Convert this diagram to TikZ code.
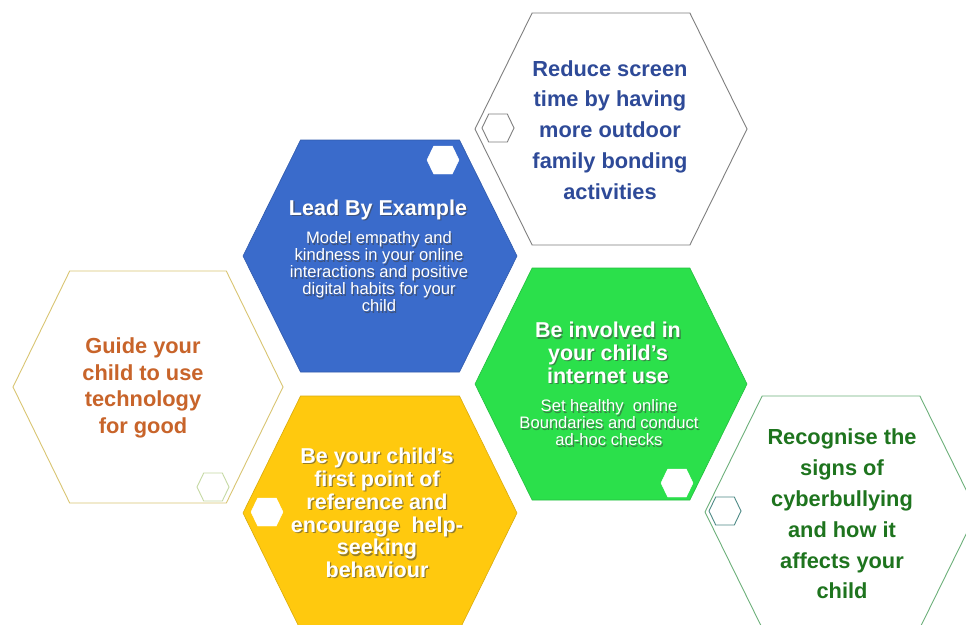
\documentclass[tikz,border=0pt]{standalone}
\usepackage{fontspec}
\setmainfont{Liberation Sans}
\definecolor{hblue}{HTML}{3A6BCB}
\definecolor{hgreen}{HTML}{2BE04B}
\definecolor{hyellow}{HTML}{FFC90E}
\definecolor{tanline}{HTML}{D9C572}
\definecolor{lightgreenline}{HTML}{C5D9A3}
\definecolor{grayline}{HTML}{7F7F7F}
\definecolor{greenline}{HTML}{6DB07A}
\definecolor{tealline}{HTML}{4E8A86}
\definecolor{torange}{HTML}{C8642A}
\definecolor{tblue}{HTML}{2E4A98}
\definecolor{tgreen}{HTML}{1E741E}
% #1 style, #2 cx, #3 cy, #4 half width, #5 half height
\newcommand\hexshape[5]{%
  \path[#1] ({#2-#4},#3) -- ({#2-0.58*#4},{#3-#5}) -- ({#2+0.58*#4},{#3-#5})
    -- ({#2+#4},#3) -- ({#2+0.58*#4},{#3+#5}) -- ({#2-0.58*#4},{#3+#5}) -- cycle;}
\tikzset{
  bigfill/.style={draw=#1!85!black, line width=0.6pt, fill=#1},
  outlinehex/.style={draw=#1, line width=0.9pt, fill=white},
  smallwhite/.style={fill=white, draw=white},
  ttl/.style={align=center, inner sep=0pt, font=\bfseries\fontsize{21.5}{22.8}\selectfont},
  ttlwide/.style={align=center, inner sep=0pt, font=\bfseries\fontsize{21.8}{30.8}\selectfont},
  ttlleft/.style={align=center, inner sep=0pt, font=\bfseries\fontsize{21.8}{26.8}\selectfont},
  bodytxt/.style={align=center, inner sep=0pt, font=\fontsize{16.6}{17}\selectfont},
  shadowtxt/.style={text=black!75, opacity=0.55, xshift=1.3pt, yshift=-1.3pt},
}
\newcommand\leadT{Lead By Example}
\newcommand\leadB{Model empathy and\\kindness in your online\\interactions and positive\\digital habits for your\\child}
\newcommand\invT{Be involved in\\your child’s\\internet use}
\newcommand\invB{Set healthy\ \ online\\Boundaries and conduct\\ad-hoc checks}
\newcommand\firstT{Be your child\char"0027 s\\first point of\\reference and\\encourage\ \ help-\\seeking\\behaviour}
\begin{document}
\begin{tikzpicture}[x=1pt,y=-1pt]
\useasboundingbox (0,0) rectangle (966,624);
\clip (0,0) rectangle (966,624);
\fill[white] (0,0) rectangle (966,624);
% outline hexagons
\hexshape{outlinehex=tanline}{148}{387}{135}{116}
\hexshape{outlinehex=grayline}{611}{129}{136}{116}
\hexshape{outlinehex=greenline}{841}{512}{136}{116}
% filled hexagons
\hexshape{bigfill=hblue}{380}{256}{137}{116}
\hexshape{bigfill=hgreen}{611}{384}{136}{116}
\hexshape{bigfill=hyellow}{380}{513}{137}{117}
% small hexagons
\hexshape{smallwhite}{443}{160}{16}{14}
\hexshape{smallwhite}{677}{483}{16}{14}
\hexshape{smallwhite}{267}{512}{16}{14}
\hexshape{draw=lightgreenline, line width=0.9pt, fill=white}{213}{487}{16}{14}
\hexshape{draw=grayline, line width=0.9pt, fill=white}{498}{128}{16}{14}
\hexshape{draw=tealline, line width=0.9pt, fill=white}{725}{511}{16}{14}
% texts in filled hexagons (with drop shadows)
\node[ttl, shadowtxt] (leadS) at (378,210) {\leadT};
\node[ttl, text=white] (lead) at (378,210) {\leadT};
\node[bodytxt, shadowtxt] (leadbodyS) at (379,272) {\leadB};
\node[bodytxt, text=white] (leadbody) at (379,272) {\leadB};
\node[ttl, shadowtxt] (involvedS) at (608,353) {\invT};
\node[ttl, text=white] (involved) at (608,353) {\invT};
\node[bodytxt, shadowtxt] (involvedbodyS) at (609,423) {\invB};
\node[bodytxt, text=white] (involvedbody) at (609,423) {\invB};
\node[ttl, shadowtxt] (firstS) at (377,513) {\firstT};
\node[ttl, text=white] (first) at (377,513) {\firstT};
% texts in outline hexagons
\node[ttlleft, text=torange] (guide) at (143,388) {Guide your\\child to use\\technology\\for good};
\node[ttlwide, text=tblue] (reduce) at (610,130) {Reduce screen\\time by having\\more outdoor\\family bonding\\activities};
\node[ttlwide, text=tgreen] (recognise) at (842,514) {Recognise the\\signs of\\cyberbullying\\and how it\\affects your\\child};
\end{tikzpicture}
\end{document}
